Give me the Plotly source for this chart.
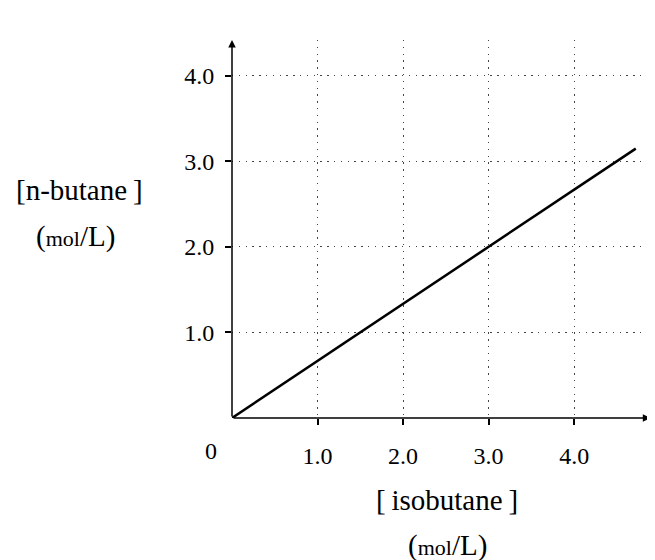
import plotly.graph_objects as go

isobutane = [0.0, 4.72]
n_butane = [0.0, 3.15]
tick_vals = [1, 2, 3, 4]
tick_text = ["1.0", "2.0", "3.0", "4.0"]

FONT = "Liberation Serif, Times New Roman, serif"
XMAX = 4.945
XARROW = 4.89
YMAX = 4.42

fig = go.Figure()
fig.add_trace(go.Scatter(x=isobutane, y=n_butane, mode="lines",
                         line=dict(color="black", width=2.5), hoverinfo="skip"))

axis_common = dict(
    showgrid=True, gridcolor="#444", griddash="1.3px,5.5px", gridwidth=1,
    zeroline=False, showline=False, automargin=False,
    ticks="outside", ticklen=6, tickwidth=1.5, tickcolor="black",
    tickvals=tick_vals, ticktext=tick_text,
    tickfont=dict(family=FONT, size=24, color="black"),
)
fig.update_xaxes(range=[0, XMAX], ticklabelstandoff=10, **axis_common)
fig.update_yaxes(range=[0, YMAX], ticklabelstandoff=6, **axis_common)

# axes with arrowheads
fig.add_annotation(x=XARROW, y=0, ax=0, ay=0, xref="x", yref="y", axref="x", ayref="y",
                   showarrow=True, arrowhead=2, arrowsize=1, arrowwidth=1.5, arrowcolor="black", text="")
fig.add_annotation(x=0, y=YMAX, ax=0, ay=0, xref="x", yref="y", axref="x", ayref="y",
                   showarrow=True, arrowhead=2, arrowsize=1, arrowwidth=1.5, arrowcolor="black", text="")

# origin label
fig.add_annotation(x=0, y=0, xref="x", yref="y", text="0", showarrow=False,
                   xshift=-21, yshift=-33, font=dict(family=FONT, size=24, color="black"))

unit = "(<span style='font-size:22px'>mol</span>/L)"
TF = dict(family=FONT, size=29, color="black")
fig.add_annotation(xref="paper", yref="paper", x=-0.36, y=0.603, text="[n-butane\u2009]",
                   showarrow=False, xanchor="center", yanchor="middle", font=TF)
fig.add_annotation(xref="paper", yref="paper", x=-0.37, y=0.479, text=unit,
                   showarrow=False, xanchor="center", yanchor="middle", font=TF)
fig.add_annotation(xref="paper", yref="paper", x=0.508, y=-0.217, text="[\u2009isobutane\u2009]",
                   showarrow=False, xanchor="center", yanchor="middle", font=TF)
fig.add_annotation(xref="paper", yref="paper", x=0.51, y=-0.336, text=unit,
                   showarrow=False, xanchor="center", yanchor="middle", font=TF)

# page body has an 8px margin, so the figure is offset by 8px
fig.update_layout(
    width=647, height=552,
    margin=dict(l=224, r=0, t=32, b=142),
    paper_bgcolor="white", plot_bgcolor="white",
    showlegend=False,
    font=dict(family=FONT, color="black"),
)
fig.write_html("out.html")
